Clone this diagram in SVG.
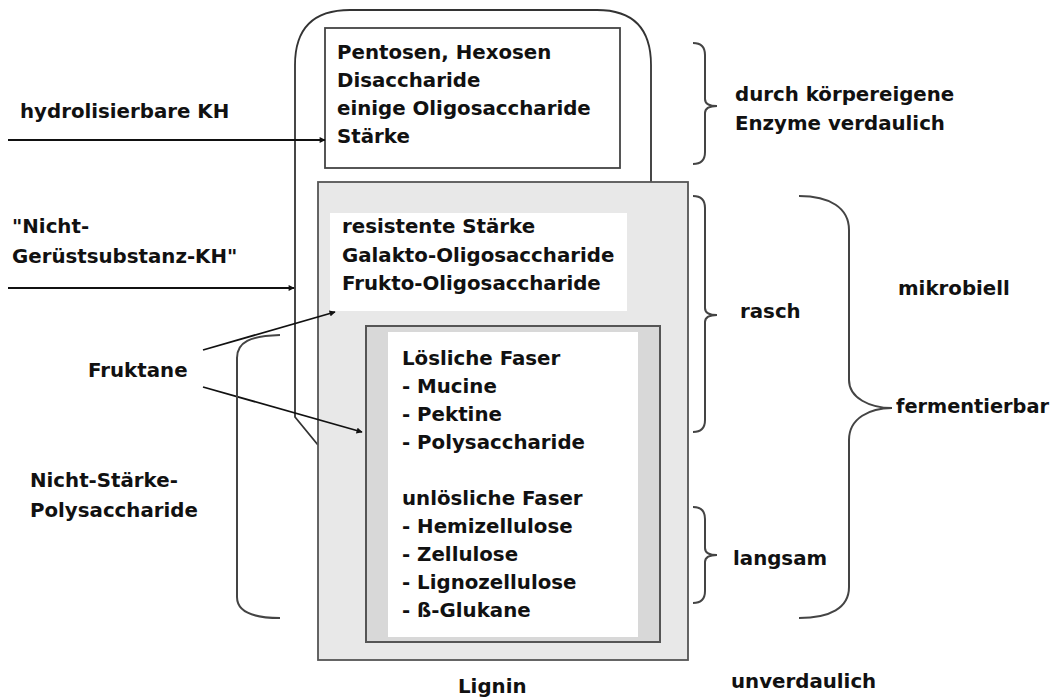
<svg xmlns="http://www.w3.org/2000/svg" width="1054" height="699" viewBox="0 0 1054 699">
<style>
text{font-family:"DejaVu Sans","Liberation Sans",sans-serif;font-weight:bold;font-size:19.8px;fill:#111}
.ln{fill:none;stroke:#333;stroke-width:1.8}
.br{fill:none;stroke:#444;stroke-width:2}
.ar{fill:none;stroke:#111;stroke-width:1.8;marker-end:url(#ah)}
</style>
<defs>
<marker id="ah" viewBox="0 0 10 10" refX="9" refY="5" markerWidth="7" markerHeight="6" orient="auto" markerUnits="userSpaceOnUse">
<path d="M0,0 L10,5 L0,10 z" fill="#111"/>
</marker>
</defs>
<rect width="1054" height="699" fill="#fff"/>

<g id="outer">
<path class="ln" d="M318 445 L295 417 L295 65 Q295 10 350 10 L597 10 Q651 10 651 65 L651 182"/>
</g>

<g id="top-box">
<rect x="325" y="28" width="295" height="140" fill="#fff" stroke="#444" stroke-width="1.8"/>
<text x="337" y="59">Pentosen, Hexosen</text>
<text x="337" y="87">Disaccharide</text>
<text x="337" y="115">einige Oligosaccharide</text>
<text x="337" y="143">Stärke</text>
</g>

<g id="gray-box">
<rect x="318" y="182" width="370" height="478" fill="#e8e8e8" stroke="#555" stroke-width="1.8"/>
<rect x="330" y="213" width="297" height="98" fill="#fff"/>
<text x="342" y="233">resistente Stärke</text>
<text x="342" y="262">Galakto-Oligosaccharide</text>
<text x="342" y="290">Frukto-Oligosaccharide</text>
</g>

<g id="fiber-box">
<rect x="366" y="326" width="294" height="316" fill="#d8d8d8" stroke="#555" stroke-width="2"/>
<rect x="388" y="332" width="250" height="305" fill="#fff"/>
<text x="402" y="365">Lösliche Faser</text>
<text x="402" y="393">- Mucine</text>
<text x="402" y="421">- Pektine</text>
<text x="402" y="449">- Polysaccharide</text>
<text x="402" y="505">unlösliche Faser</text>
<text x="402" y="533">- Hemizellulose</text>
<text x="402" y="561">- Zellulose</text>
<text x="402" y="589">- Lignozellulose</text>
<text x="402" y="617">- ß-Glukane</text>
</g>

<g id="lignin"><text x="458" y="693">Lignin</text></g>

<g id="left-labels">
<text x="20" y="118">hydrolisierbare KH</text>
<text x="12" y="233">"Nicht-</text>
<text x="12" y="263">Gerüstsubstanz-KH"</text>
<text x="88" y="377">Fruktane</text>
<text x="30" y="487">Nicht-Stärke-</text>
<text x="30" y="517">Polysaccharide</text>
</g>

<g id="right-labels">
<text x="735" y="101">durch körpereigene</text>
<text x="735" y="130">Enzyme verdaulich</text>
<text x="740" y="318">rasch</text>
<text x="733" y="565">langsam</text>
<text x="898" y="295">mikrobiell</text>
<text x="896" y="413" textLength="153" lengthAdjust="spacingAndGlyphs">fermentierbar</text>
<text x="731" y="688">unverdaulich</text>
</g>

<g id="connectors">
<path class="ar" d="M8 140 L325 140"/>
<path class="ar" d="M8 288 L294 288"/>
<path class="ar" d="M203 350 L335 312"/>
<path class="ar" d="M203 387 L362 432"/>
<path class="br" d="M693 43 Q705 43 705 55 L705 99 Q705 106 717 106 Q705 106 705 113 L705 152 Q705 164 693 164"/>
<path class="br" d="M693 196 Q705 196 705 208 L705 308 Q705 315 717 315 Q705 315 705 322 L705 420 Q705 432 693 432"/>
<path class="br" d="M693 507 Q705 507 705 519 L705 548 Q705 555 717 555 Q705 555 705 562 L705 591 Q705 603 693 603"/>
<path class="br" d="M799 196 C830 196 849 208 849 230 L849 380 C849 398 870 408 892 408 C870 408 849 418 849 440 L849 587 C849 608 830 618 799 618"/>
<path class="br" d="M280 335 C250 336 237 342 237 358 L237 597 C237 610 250 618 280 618"/>
</g>
</svg>
